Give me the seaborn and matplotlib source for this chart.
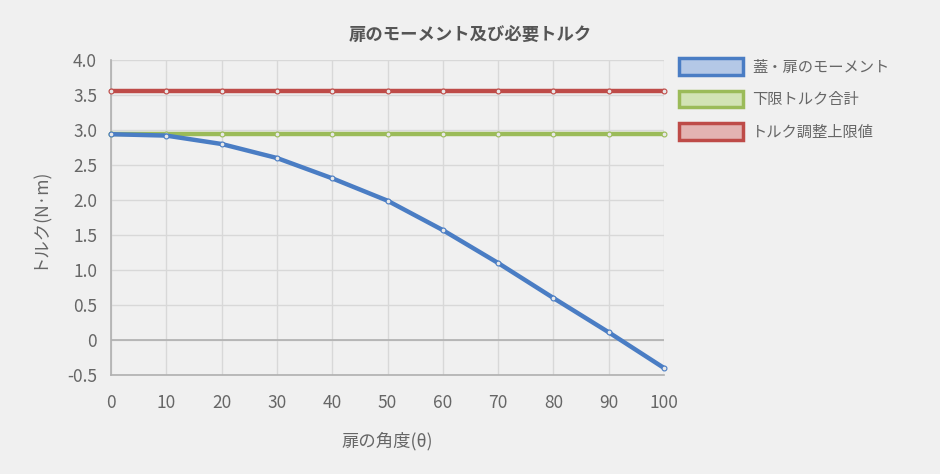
import matplotlib
matplotlib.use("Agg")
import matplotlib.pyplot as plt
import seaborn as sns
import pandas as pd
from matplotlib.patches import Patch

angles = [0, 10, 20, 30, 40, 50, 60, 70, 80, 90, 100]
moment = [2.94, 2.92, 2.80, 2.60, 2.31, 1.99, 1.57, 1.10, 0.60, 0.11, -0.40]
lower = [2.94] * 11
upper = [3.56] * 11
series_names = ["蓋・扉のモーメント", "下限トルク合計", "トルク調整上限値"]
line_colors = ["#4a7dc4", "#9bbb59", "#be4b48"]
fill_colors = ["#b4c8e6", "#d2e3b5", "#e3b3b2"]
y_ticks = [-0.5, 0, 0.5, 1.0, 1.5, 2.0, 2.5, 3.0, 3.5, 4.0]
y_labels = ["-0.5", "0", "0.5", "1.0", "1.5", "2.0", "2.5", "3.0", "3.5", "4.0"]

sns.set_theme(style="white")
plt.rcParams['font.family'] = ['Noto Sans CJK JP', 'DejaVu Sans']

df = pd.DataFrame({
    "angle": angles * 3,
    "value": moment + lower + upper,
    "series": [series_names[0]] * 11 + [series_names[1]] * 11 + [series_names[2]] * 11,
})

bg = "#f0f0f0"
fig = plt.figure(figsize=(9.4, 4.74), dpi=100, facecolor=bg)
ax = fig.add_axes([111 / 940, 1 - 375 / 474, (664 - 111) / 940, (375 - 60) / 474])
ax.set_facecolor(bg)

for name, col in zip(series_names[::-1], line_colors[::-1]):
    sub = df[df["series"] == name]
    sns.lineplot(data=sub, x="angle", y="value", ax=ax, color=col, linewidth=3.2,
                 marker="o", markersize=3.5, markerfacecolor="#e8e8e8",
                 markeredgecolor=col, markeredgewidth=0.8, legend=False,
                 zorder=3, clip_on=False)

ax.set_xlim(0, 100)
ax.set_ylim(-0.5, 4.0)
ax.set_xticks(angles)
ax.set_xticklabels([str(a) for a in angles])
ax.set_yticks(y_ticks)
ax.set_yticklabels(y_labels)
ax.grid(True, color="#d8d8d8", linewidth=1, zorder=0)
ax.axhline(0, color="#b0b0b0", linewidth=1.2, zorder=1)
for s in ["top", "right"]:
    ax.spines[s].set_visible(False)
for s in ["left", "bottom"]:
    ax.spines[s].set_color("#b0b0b0")
    ax.spines[s].set_linewidth(1.2)
ax.tick_params(axis="both", colors="#666666", labelsize=12.5, width=1, direction="out")
ax.tick_params(axis="x", length=8, pad=6)
ax.tick_params(axis="y", length=6, pad=4)
ax.tick_params(axis="both", color="#c8c8c8")
ax.set_xlabel("扉の角度(θ)", color="#666666", fontsize=12.5, labelpad=14)
ax.set_ylabel("トルク(N·m)", color="#666666", fontsize=12.5, labelpad=14)

fig.text(470 / 940, 1 - 35 / 474, "扉のモーメント及び必要トルク", ha="center", va="center",
         fontsize=12.5, color="#555555", fontweight="bold")

handles = [Patch(facecolor=f, edgecolor=c, linewidth=2.5) for f, c in zip(fill_colors, line_colors)]
leg = fig.legend(handles, series_names, loc="upper left", bbox_to_anchor=(679 / 940, 1 - 58 / 474),
                 frameon=False, fontsize=11, handlelength=4.2, handleheight=1.3,
                 labelspacing=1.0, handletextpad=0.6, borderaxespad=0, borderpad=0)
for t in leg.get_texts():
    t.set_color("#666666")

fig.savefig("out.png", dpi=100, facecolor=bg)
